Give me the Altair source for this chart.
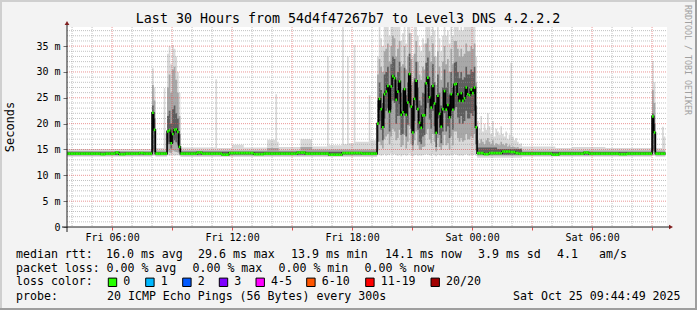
import altair as alt
import pandas as pd

MONO = "DejaVu Sans Mono"

# ---------------- text ----------------
TITLE = "Last 30 Hours from 54d4f47267b7 to Level3 DNS 4.2.2.2"
Y_TITLE = "Seconds"
WATERMARK = "RRDTOOL / TOBI OETIKER"

# ---------------- time / value frame ----------------
START_H = 3 + 44 / 60 + 49 / 3600      # Fri 03:44:49, hours since Fri 00:00
SPAN_H = 30.0
FIRST_STEP_H = 3.75                    # first 5-minute step, Fri 03:45
STEP_H = 5 / 60
Y_MAX = 38.7

X_TICK_HOURS = [6, 12, 18, 24, 30]
X_TICK_LABELS = ["Fri 06:00", "Fri 12:00", "Fri 18:00", "Sat 00:00", "Sat 06:00"]
X_MAJOR_HOURS = [6, 9, 12, 15, 18, 21, 24, 27, 30, 33]
X_MINOR_HOURS = [4, 5, 7, 8, 10, 11, 13, 14, 16, 17, 19, 20, 22, 23, 25, 26, 28, 29, 31, 32]
Y_TICK_VALUES = [0, 5, 10, 15, 20, 25, 30, 35]
Y_TICK_LABELS = ["0\u00a0\u00a0", "5 m", "10 m", "15 m", "20 m", "25 m", "30 m", "35 m"]
Y_MAJOR = [5, 10, 15, 20, 25, 30, 35]
Y_MINOR = [1, 2, 3, 4, 6, 7, 8, 9, 11, 12, 13, 14, 16, 17, 18, 19, 21, 22, 23, 24,
           26, 27, 28, 29, 31, 32, 33, 34, 36, 37, 38]

# ---------------- busy period (Fri 19:15 .. Sat 00:10), one value per 5-min step, ms ----------------
BUSY_MED = [20.0, 24.8, 22.8, 19.3, 25.7, 26.2, 27.3, 22.3, 27.2, 29.2,
            28.8, 24.6, 26.2, 28.2, 21.7, 22.2, 26.7, 21.7, 24.1, 29.6,
            23.3, 18.3, 24.8, 28.3, 22.8, 20.2, 19.2, 21.6, 21.6, 27.8,
            28.9, 25.1, 23.1, 27.3, 23.9, 18.2, 25.4, 21.9, 19.4, 22.8,
            26.3, 22.7, 23.6, 21.2, 25.7, 22.7, 27.6, 27.7, 25.7, 24.4,
            25.9, 24.4, 24.9, 27.0, 25.7, 25.5, 26.6, 25.9, 27.0, 19.3]
BUSY_P25 = [16.5, 20.5, 18.8, 16.8, 21.0, 22.5, 23.0, 18.5, 22.8, 24.5,
            24.0, 20.0, 21.5, 23.8, 17.8, 18.0, 22.0, 17.5, 19.8, 25.0,
            19.0, 15.8, 20.5, 23.5, 18.8, 16.5, 16.0, 17.5, 17.8, 23.0,
            24.0, 20.8, 19.0, 22.5, 19.5, 15.5, 21.0, 17.8, 16.2, 18.5,
            22.0, 18.5, 19.5, 17.2, 21.5, 18.8, 23.0, 23.2, 21.2, 20.0,
            21.5, 20.0, 20.5, 22.5, 21.0, 21.0, 22.0, 21.5, 22.5, 16.0]
BUSY_P75 = [24.5, 28.0, 26.5, 24.0, 29.5, 30.0, 31.0, 26.8, 31.5, 33.0,
            32.5, 28.5, 30.0, 32.0, 26.0, 26.5, 30.8, 25.5, 28.0, 33.5,
            27.5, 22.5, 28.8, 32.0, 27.0, 24.5, 23.5, 26.0, 25.8, 31.8,
            32.8, 29.0, 27.2, 31.5, 28.0, 22.0, 29.5, 26.0, 23.5, 27.0,
            30.5, 27.0, 28.0, 25.5, 30.0, 27.0, 31.8, 32.0, 30.0, 28.8,
            30.0, 28.5, 29.0, 31.0, 29.5, 29.5, 30.5, 30.0, 31.0, 23.5]
BUSY_P10 = [14.8, 16.5, 15.8, 15.2, 17.0, 17.5, 18.0, 16.0, 17.5, 19.0,
            18.5, 16.8, 17.2, 18.8, 15.5, 15.8, 17.8, 15.2, 16.5, 19.5,
            16.0, 14.8, 16.8, 18.5, 15.8, 15.0, 14.9, 15.5, 15.6, 18.0,
            19.0, 17.0, 16.2, 18.0, 16.5, 14.6, 17.2, 15.5, 14.9, 15.8,
            17.8, 15.8, 16.2, 15.0, 17.5, 15.8, 18.5, 18.5, 17.2, 16.5,
            17.2, 16.5, 16.8, 18.0, 17.0, 17.0, 17.5, 17.2, 18.0, 14.8]
BUSY_P90 = [29.5, 32.5, 31.0, 30.0, 34.0, 34.5, 35.5, 32.0, 35.0, 37.0,
            36.5, 33.0, 34.5, 36.0, 31.0, 31.5, 35.0, 30.5, 33.0, 37.5,
            32.5, 28.0, 33.5, 36.0, 32.0, 29.5, 28.5, 31.0, 30.5, 35.5,
            36.5, 34.0, 32.0, 35.5, 33.0, 27.5, 34.0, 31.0, 28.5, 32.0,
            35.0, 31.5, 32.5, 30.0, 34.5, 31.5, 36.0, 36.0, 34.5, 33.0,
            34.5, 33.0, 33.5, 35.5, 34.0, 34.0, 35.0, 34.5, 35.5, 28.0]
BUSY_HI = [33.0, 38.7, 36.5, 35.0, 38.7, 38.7, 38.7, 37.0, 38.7, 38.7,
           38.7, 38.7, 38.7, 38.7, 36.0, 37.5, 38.7, 35.5, 38.7, 38.7,
           37.5, 33.0, 38.7, 38.7, 37.0, 35.0, 34.0, 36.5, 35.5, 38.7,
           38.7, 38.7, 37.0, 38.7, 38.0, 33.0, 38.7, 36.5, 34.0, 37.0,
           38.7, 37.0, 38.0, 35.5, 38.7, 37.0, 38.7, 38.7, 38.7, 38.0,
           38.7, 38.0, 38.7, 38.7, 38.7, 38.7, 38.7, 38.7, 38.7, 33.0]
BUSY_LO = [13.9, 14.0, 13.8, 13.9, 14.1, 13.8, 14.0, 13.9, 14.2, 14.0,
           14.1, 13.9, 13.8, 14.0, 13.7, 13.9, 14.0, 13.8, 13.9, 14.2,
           13.8, 13.7, 13.9, 14.0, 13.8, 13.9, 13.8, 13.9, 14.0, 14.1,
           14.0, 13.9, 13.8, 14.1, 13.9, 13.7, 14.0, 13.9, 13.8, 13.9,
           14.0, 13.8, 13.9, 13.8, 14.0, 13.9, 14.1, 14.0, 13.9, 13.8,
           13.9, 13.8, 14.0, 14.1, 13.9, 13.8, 14.0, 13.9, 14.0, 13.8]

# ---------------- whole series, run-length: (count, value) or a single value ----------------
MED_RUNS = [(20, 14.2), (3, 14.1), (6, 14.2), (2, 14.4), (4, 14.1), (8, 14.2), (3, 14.3), (5, 14.2),
            22.1, 18.8,
            (7, 14.2),
            18.5, 18.7, 16.2, 18.0, 18.8, 18.9, 18.4, 15.5,
            (10, 14.2), (3, 14.4), (12, 14.2), (4, 14.0), (15, 14.3), (6, 14.1), (20, 14.2),
            (5, 14.4), (14, 14.2), (8, 14.0), (12, 14.3), (9, 14.2),
            *BUSY_MED,
            (4, 14.3), (3, 14.1), (8, 14.3), (5, 14.6), (3, 14.5), (2, 14.3), (20, 14.2), (4, 14.0),
            (15, 14.2), (3, 14.4), (18, 14.2), (5, 14.1), (15, 14.2),
            21.4, 18.3,
            (6, 14.2)]
LO_RUNS = [(51, 13.6), 13.8, 13.8, (7, 13.6),
           13.9, 13.8, 13.9, 14.0, 13.8, 13.9, 13.9, 13.8,
           (118, 13.55), *BUSY_LO, (27, 13.4), (78, 13.6), 13.8, 13.8, (6, 13.6)]
P10_RUNS = [(51, 13.85), 14.2, 14.1, (7, 13.85),
            14.6, 14.4, 14.3, 14.8, 14.6, 14.5, 14.4, 14.2,
            (118, 13.85), *BUSY_P10, (105, 13.85), 14.3, 14.2, (6, 13.85)]
P25_RUNS = [(51, 14.0), 14.8, 14.5, (7, 14.0),
            16.0, 16.5, 15.2, 16.2, 16.8, 16.4, 15.8, 14.6,
            (118, 14.0), *BUSY_P25, (105, 14.0), 14.8, 14.6, (6, 14.0)]
P75_RUNS = [(51, 14.45), 23.5, 21.0, (7, 14.5),
            21.5, 22.5, 20.0, 22.8, 23.5, 22.0, 21.0, 18.0,
            (118, 14.55), *BUSY_P75, (12, 15.4), (15, 15.1), (78, 14.5), 22.0, 20.0, (6, 14.5)]
P90_RUNS = [(51, 14.7), 27.5, 24.5, (7, 14.8),
            27.0, 29.5, 26.0, 30.5, 31.0, 28.5, 26.0, 21.5,
            (52, 14.8), (7, 15.3), (13, 14.8), (7, 15.5), (39, 15.0),
            *BUSY_P90,
            16.8, 16.2, 17.0, 16.5, 16.0, 16.8, 17.2, 16.5, 16.0, 16.8, 15.8, 16.2, 16.0, 15.8,
            16.5, 16.0, 15.8, 16.2, 15.6, 15.8, 15.5, 15.6, 15.5, 15.4, 15.5, 15.2, 15.3,
            (78, 14.8), 26.5, 24.0, (6, 14.8)]
HI_RUNS = [(51, 15.1), 30.7, 27.0, (5, 15.3), 26.9, 18.0,
           33.5, 35.0, 31.5, 35.2, 34.5, 33.0, 30.0, 26.0,
           (21, 15.4), 28.6, (9, 15.3), (7, 15.9), (14, 15.4), (5, 16.9), 25.7, 16.5, (13, 15.5),
           (7, 17.0), (9, 15.6), 33.0, (8, 15.8), 38.7, (2, 16.0), 33.0, (3, 16.2), 35.2, (8, 16.5),
           25.5, (4, 16.8),
           *BUSY_HI,
           20.5, 19.0, 21.5, 18.5, 20.0, 18.8, 22.0, 19.5, 18.0, 20.5, 17.5, 19.0, 18.5, 17.8,
           19.5, 18.0, 17.5, 18.5, 17.0, 17.8, 31.8, 17.5, 16.8, 17.2, 16.5, 16.0, 16.2,
           (20, 15.6), (10, 15.3), (20, 15.5), (28, 15.3),
           32.1, 28.0, (4, 15.3), 19.4, 17.5]

# ---------------- legend text ----------------
LEGEND_RTT = ["median rtt:", "16.0 ms avg", "29.6 ms max", "13.9 ms min", "14.1 ms now",
              "3.9 ms sd", "4.1", "am/s"]
LEGEND_LOSS = ["packet loss:", "0.00 % avg", "0.00 % max", "0.00 % min", "0.00 % now"]
LEGEND_COLOR_TITLE = "loss color:"
LOSS_LABELS = ["0", "1", "2", "3", "4-5", "6-10", "11-19", "20/20"]
LOSS_COLORS = ["#26ff00", "#00b8ff", "#0059ff", "#7e00ff", "#ff00ff", "#ff5500", "#ff0000", "#a10000"]
LEGEND_PROBE = ["probe:", "20 ICMP Echo Pings (56 Bytes) every 300s", "Sat Oct 25 09:44:49 2025"]

# ---------------- layout (pixels, absolute in the 697x310 image) ----------------
PLOT_L, PLOT_T, PLOT_W, PLOT_H = 67, 27, 600, 200
RTT_X = [16, 106, 198, 291, 385, 478, 557, 599]
LOSS_X = [16, 106.5, 192.5, 278.5, 364.5]
BOX_X = [108.3, 145.7, 182.7, 219.3, 256.0, 306.7, 365.7, 431.0]
PROBE_X = [16, 107, 513]
ROW_Y = [255.0, 268.5, 282.3, 296.5]


def expand(runs):
    out = []
    for r in runs:
        if isinstance(r, tuple):
            out += [r[1]] * r[0]
        else:
            out.append(r)
    return out


med = expand(MED_RUNS)
lo, p10, p25 = expand(LO_RUNS), expand(P10_RUNS), expand(P25_RUNS)
p75, p90, hi = expand(P75_RUNS), expand(P90_RUNS), expand(HI_RUNS)
n = len(med)
assert all(len(s) == n for s in (lo, p10, p25, p75, p90, hi)), [len(s) for s in (med, lo, p10, p25, p75, p90, hi)]

t = [FIRST_STEP_H + i * STEP_H for i in range(n)]
steps = pd.DataFrame({"t": t, "t2": [v + STEP_H for v in t], "med": med,
                      "lo": lo, "p10": p10, "p25": p25, "p75": p75, "p90": p90, "hi": hi})
last = steps.iloc[[-1]].copy()
last["t"] = last["t2"]
area_df = pd.concat([steps, last], ignore_index=True)


def label_expr(values, labels):
    expr = "''"
    for v, l in reversed(list(zip(values, labels))):
        expr = f"datum.value == {v} ? '{l}' : ({expr})"
    return expr


XS = alt.Scale(domain=[START_H, START_H + SPAN_H], nice=False, zero=False)
YS = alt.Scale(domain=[0, Y_MAX], nice=False, zero=False)

X_AXIS = alt.Axis(values=X_MAJOR_HOURS, labelExpr=label_expr(X_TICK_HOURS, X_TICK_LABELS),
                  title=None, grid=False, domain=False, ticks=True, tickSize=3,
                  tickColor="#de5050", labelFont=MONO, labelFontSize=10, labelColor="#000000",
                  labelPadding=2, labelOverlap=False, labelFlush=False)
Y_AXIS = alt.Axis(values=Y_TICK_VALUES, labelExpr=label_expr(Y_TICK_VALUES, Y_TICK_LABELS),
                  title=None, grid=False, domain=False, ticks=True, tickSize=4,
                  tickColor="#707070", labelFont=MONO, labelFontSize=10, labelColor="#000000",
                  labelPadding=3, labelOverlap=False)


def X(field):
    return alt.X(field, scale=XS, axis=X_AXIS, title=None)


def Y(field):
    return alt.Y(field, scale=YS, axis=Y_AXIS, title=None)


base = alt.Chart(area_df)
smoke_light = base.mark_area(interpolate="step-after", color="#d9d9d9", clip=True).encode(
    x=X("t:Q"), y=Y("lo:Q"), y2="hi:Q")
smoke_mid = base.mark_area(interpolate="step-after", color="#a8a8a8", clip=True).encode(
    x=X("t:Q"), y=Y("p10:Q"), y2="p90:Q")
smoke_dark = base.mark_area(interpolate="step-after", color="#5e5e5e", clip=True).encode(
    x=X("t:Q"), y=Y("p25:Q"), y2="p75:Q")

grid_y_minor = alt.Chart(pd.DataFrame({"v": Y_MINOR})).mark_rule(
    color="#8f8f8f", opacity=0.55, strokeWidth=1, strokeDash=[1, 1]).encode(
    x=alt.value(0), x2=alt.value(PLOT_W), y=Y("v:Q"))
grid_y_major = alt.Chart(pd.DataFrame({"v": Y_MAJOR})).mark_rule(
    color="#de5050", opacity=0.6, strokeWidth=1, strokeDash=[1, 1]).encode(
    x=alt.value(0), x2=alt.value(PLOT_W), y=Y("v:Q"))
grid_x_minor = alt.Chart(pd.DataFrame({"h": X_MINOR_HOURS})).mark_rule(
    color="#8f8f8f", opacity=0.55, strokeWidth=1, strokeDash=[1, 1]).encode(
    x=X("h:Q"), y=alt.value(0), y2=alt.value(PLOT_H))
grid_x_major = alt.Chart(pd.DataFrame({"h": X_MAJOR_HOURS})).mark_rule(
    color="#de5050", opacity=0.6, strokeWidth=1, strokeDash=[1, 1]).encode(
    x=X("h:Q"), y=alt.value(0), y2=alt.value(PLOT_H))

median_black = base.mark_line(interpolate="step-after", color="#000000", strokeWidth=1.6,
                              clip=True).encode(x=X("t:Q"), y=Y("med:Q"))
median_green = alt.Chart(steps).mark_rule(color="#26ff00", strokeWidth=2.6, clip=True).encode(
    x=X("t:Q"), x2="t2:Q", y=Y("med:Q"))

one = pd.DataFrame({"a": [0]})


def hrule(x1, x2, y, color, w=1):
    return alt.Chart(one).mark_rule(color=color, strokeWidth=w).encode(
        x=alt.value(x1 - PLOT_L), x2=alt.value(x2 - PLOT_L), y=alt.value(y - PLOT_T))


def vrule(x, y1, y2, color, w=1):
    return alt.Chart(one).mark_rule(color=color, strokeWidth=w).encode(
        x=alt.value(x - PLOT_L), y=alt.value(y1 - PLOT_T), y2=alt.value(y2 - PLOT_T))


def label(text, x, y, size=11.6, align="left", angle=0, color="#000000"):
    return alt.Chart(one).mark_text(font=MONO, fontSize=size, align=align, baseline="middle",
                                    angle=angle, color=color).encode(
        x=alt.value(x - PLOT_L), y=alt.value(y - PLOT_T), text=alt.value(text))


def box(x, y, color):
    return alt.Chart(one).mark_rect(stroke="#000000", strokeWidth=1, fill=color).encode(
        x=alt.value(x - PLOT_L), x2=alt.value(x + 8.4 - PLOT_L),
        y=alt.value(y - 4.2 - PLOT_T), y2=alt.value(y + 4.2 - PLOT_T))


decor = [
    vrule(PLOT_L, PLOT_T - 3, PLOT_T + PLOT_H + 5, "#1f1f1f"),
    hrule(PLOT_L - 5, PLOT_L + PLOT_W + 2, PLOT_T + PLOT_H, "#1f1f1f"),
    alt.Chart(one).mark_point(shape="triangle-up", filled=True, size=22, color="#801f1f",
                              opacity=1).encode(x=alt.value(0), y=alt.value(-4)),
    alt.Chart(one).mark_point(shape="triangle-right", filled=True, size=22, color="#801f1f",
                              opacity=1).encode(x=alt.value(PLOT_W + 4), y=alt.value(PLOT_H)),
    hrule(0, 697, 1, "#cfcfcf", 2),
    vrule(1, 0, 310, "#cfcfcf", 2),
    hrule(0, 697, 309, "#9e9e9e", 2),
    vrule(696, 0, 310, "#9e9e9e", 2),
]

texts = [
    label(TITLE, 348, 19, size=13.3, align="center"),
    label(Y_TITLE, 10, 127, size=12, align="center", angle=270),
    label(WATERMARK, 687, 60, size=8.3, align="center", angle=90, color="#a0a0a0"),
]
texts += [label(s, x, ROW_Y[0]) for s, x in zip(LEGEND_RTT, RTT_X)]
texts += [label(s, x, ROW_Y[1]) for s, x in zip(LEGEND_LOSS, LOSS_X)]
texts += [label(LEGEND_COLOR_TITLE, 16, ROW_Y[2])]
texts += [label(s, bx + 15, ROW_Y[2]) for s, bx in zip(LOSS_LABELS, BOX_X)]
texts += [box(bx, ROW_Y[2], c) for bx, c in zip(BOX_X, LOSS_COLORS)]
texts += [label(s, x, ROW_Y[3]) for s, x in zip(LEGEND_PROBE, PROBE_X)]

chart = alt.layer(
    smoke_light, smoke_mid, smoke_dark,
    grid_y_minor, grid_x_minor, grid_y_major, grid_x_major,
    median_black, median_green,
    *decor, *texts,
).properties(
    width=PLOT_W, height=PLOT_H,
    autosize=alt.AutoSizeParams(type="none"),
    padding={"left": PLOT_L, "top": PLOT_T, "right": 697 - PLOT_L - PLOT_W,
             "bottom": 310 - PLOT_T - PLOT_H},
    background="#f3f3f3",
).configure_view(fill="#ffffff", stroke=None)

chart.save("out.html", embed_options={"renderer": "svg", "actions": False})
